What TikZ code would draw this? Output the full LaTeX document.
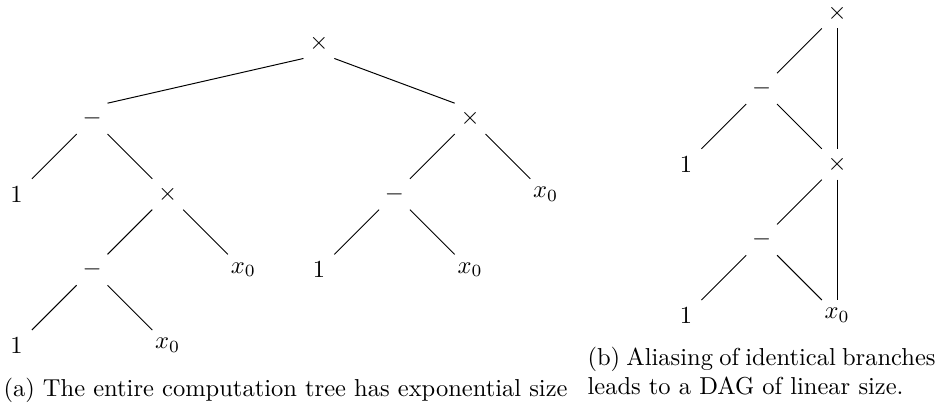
\documentclass[tikz,border=0pt]{standalone}
\usetikzlibrary{positioning}

\begin{document}
\begin{tikzpicture}[
        x=30.85pt, y=-30.85pt,
        op/.style={minimum size=12.2pt, inner sep=0pt},
        subcap/.style={inner sep=0pt, anchor=base west},
        link/.style={thin}
    ]
        \useasboundingbox (0,0) rectangle (12.526,5.357);

        \begin{scope}[shift={(0.218,0.569)}]
        \node[op] (a0) at (4,0) {$\times$};
        \node[op] (a1) at (1,1) {$-$};
        \node[op] (a2) at (6,1) {$\times$};
        \node[op] (a3) at (0,2) {$1$};
        \node[op] (a4) at (2,2) {$\times$};
        \node[op] (a5) at (5,2) {$-$};
        \node[op] (a6) at (7,2) {$x_0$};
        \node[op] (a7) at (1,3) {$-$};
        \node[op] (a8) at (3,3) {$x_0$};
        \node[op] (a9) at (4,3) {$1$};
        \node[op] (a10) at (6,3) {$x_0$};
        \node[op] (a11) at (0,4) {$1$};
        \node[op] (a12) at (2,4) {$x_0$};
        \end{scope}

        \draw[link] (a0.south west) -- (a1.north east);
        \draw[link] (a0.south east) -- (a2.north west);
        \draw[link] (a1.south west) -- (a3.north east);
        \draw[link] (a1.south east) -- (a4.north west);
        \draw[link] (a2.south west) -- (a5.north east);
        \draw[link] (a2.south east) -- (a6.north west);
        \draw[link] (a4.south west) -- (a7.north east);
        \draw[link] (a4.south east) -- (a8.north west);
        \draw[link] (a5.south west) -- (a9.north east);
        \draw[link] (a5.south east) -- (a10.north west);
        \draw[link] (a7.south west) -- (a11.north east);
        \draw[link] (a7.south east) -- (a12.north west);

        \begin{scope}[shift={(9.074,0.172)}]
        \node[op] (b0) at (2,0) {$\times$};
        \node[op] (b1) at (1,1) {$-$};
        \node[op] (b2) at (0,2) {$1$};
        \node[op] (b3) at (2,2) {$\times$};
        \node[op] (b4) at (1,3) {$-$};
        \node[op] (b5) at (0,4) {$1$};
        \node[op] (b6) at (2,4) {$x_0$};
        \end{scope}

        \draw[link] (b0.south west) -- (b1.north east);
        \draw[link] (b0.south) -- (b3.north);
        \draw[link] (b1.south west) -- (b2.north east);
        \draw[link] (b1.south east) -- (b3.north west);
        \draw[link] (b3.south west) -- (b4.north east);
        \draw[link] (b3.south) -- (b6.north);
        \draw[link] (b4.south west) -- (b5.north east);
        \draw[link] (b4.south east) -- (b6.north west);

        \node[subcap] (capa) at (0.04,5.238) {(a) The entire computation tree has exponential size};
        \node[subcap, text width=142pt, align=justify] (capb) at (7.765,4.828) {(b) Aliasing of identical branches leads to a DAG of linear size.};
    \end{tikzpicture}
\end{document}
